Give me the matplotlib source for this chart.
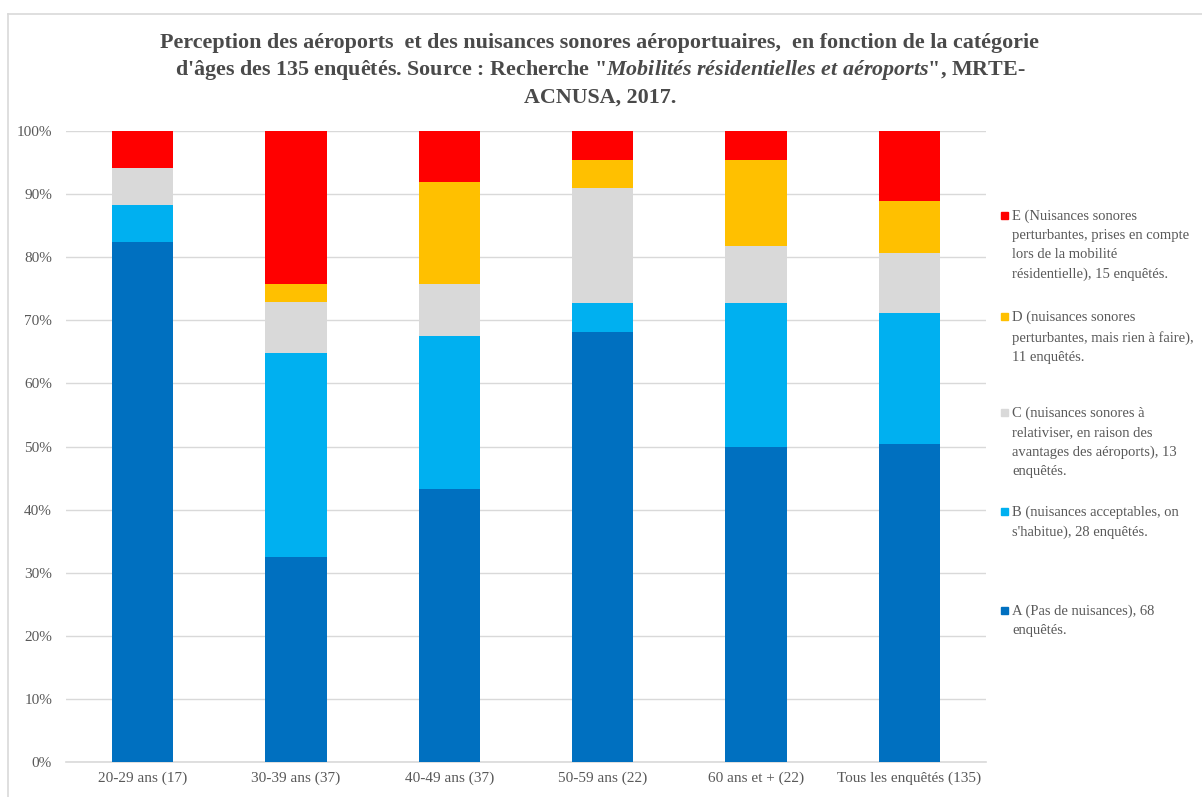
import matplotlib.pyplot as plt
from matplotlib.patches import Rectangle
from matplotlib.lines import Line2D
import numpy as np

categories = ['20-29 ans (17)', '30-39 ans (37)', '40-49 ans (37)', '50-59 ans (22)',
              '60 ans et + (22)', 'Tous les enquêtés (135)']
# nombre d'enquêtés par catégorie de réponse
a_counts = [14, 12, 16, 15, 11, 68]
b_counts = [1, 12, 9, 1, 5, 28]
c_counts = [1, 3, 3, 4, 2, 13]
d_counts = [0, 1, 6, 1, 3, 11]
e_counts = [1, 9, 3, 1, 1, 15]

series = [a_counts, b_counts, c_counts, d_counts, e_counts]
colors = ['#0070C0', '#00B0F0', '#D9D9D9', '#FFC000', '#FF0000']
labels = ['A (Pas de nuisances), 68\nenquêtés.',
          "B (nuisances acceptables, on\ns'habitue), 28 enquêtés.",
          'C (nuisances sonores à\nrelativiser, en raison des\navantages des aéroports), 13\nenquêtés.',
          'D (nuisances sonores\nperturbantes, mais rien à faire),\n11 enquêtés.',
          'E (Nuisances sonores\nperturbantes, prises en compte\nlors de la mobilité\nrésidentielle), 15 enquêtés.']
legend_y = [610, 511, 412, 316, 215]  # pixel centre of the legend squares

plt.rcParams['font.family'] = ['Liberation Serif', 'DejaVu Serif']
plt.rcParams['mathtext.fontset'] = 'custom'
plt.rcParams['mathtext.rm'] = 'Liberation Serif:bold'
plt.rcParams['mathtext.it'] = 'Liberation Serif:italic:bold'
plt.rcParams['mathtext.bf'] = 'Liberation Serif:bold'

W, H = 1202, 797
fig = plt.figure(figsize=(W / 100, H / 100), dpi=100)

ax = fig.add_axes([66 / W, 1 - 762 / H, (986 - 66) / W, (762 - 131) / H])

totals = np.array([sum(s[i] for s in series) for i in range(len(categories))])
x = np.arange(len(categories))
bottom = np.zeros(len(categories))
for s, col in zip(series, colors):
    pct = np.array(s) / totals * 100
    ax.bar(x, pct, 0.4, bottom=bottom, color=col, zorder=3)
    bottom += pct

ax.set_xlim(-0.5, len(categories) - 0.5)
ax.set_ylim(0, 100)
ax.set_yticks(np.arange(0, 101, 10))
ax.set_yticklabels([f'{v}%' for v in range(0, 101, 10)])
ax.set_xticks(x)
ax.set_xticklabels(categories)
ax.tick_params(axis='both', length=0, colors='#595959', labelsize=11)
ax.tick_params(axis='y', pad=10)
ax.tick_params(axis='x', pad=7)
ax.grid(axis='y', color='#D9D9D9', linewidth=1, zorder=0)
for side in ['left', 'right', 'top']:
    ax.spines[side].set_visible(False)
ax.spines['bottom'].set_color('#D9D9D9')
ax.spines['bottom'].set_linewidth(1.2)

fig.text(600 / W, 1 - 33 / H,
         'Perception des aéroports  et des nuisances sonores aéroportuaires,  en fonction de la catégorie\n'
         "d'âges des 135 enquêtés. Source : Recherche \"$\\it{Mobilités\\ résidentielles\\ et\\ aéroports}$\", MRTE-\n"
         'ACNUSA, 2017.',
         ha='center', va='top', fontsize=15.8, fontweight='bold', color='#4a4a4a',
         linespacing=1.32)

for lab, col, yc in zip(labels, colors, legend_y):
    fig.patches.append(Rectangle((1001 / W, 1 - (yc + 3.5) / H), 7 / W, 7 / H,
                                 transform=fig.transFigure, color=col))
    fig.text(1012 / W, 1 - (yc - 5) / H, lab, ha='left', va='top', fontsize=10.5,
             color='#595959', linespacing=1.6)

# cadre du graphique
fig.lines.append(Line2D([8 / W, 8 / W], [0, 1 - 14 / H], transform=fig.transFigure,
                        color='#D9D9D9', linewidth=1.2))
fig.lines.append(Line2D([8 / W, 1], [1 - 14 / H, 1 - 14 / H], transform=fig.transFigure,
                        color='#D9D9D9', linewidth=1.2))

fig.savefig('out.png', dpi=100, facecolor='white')
